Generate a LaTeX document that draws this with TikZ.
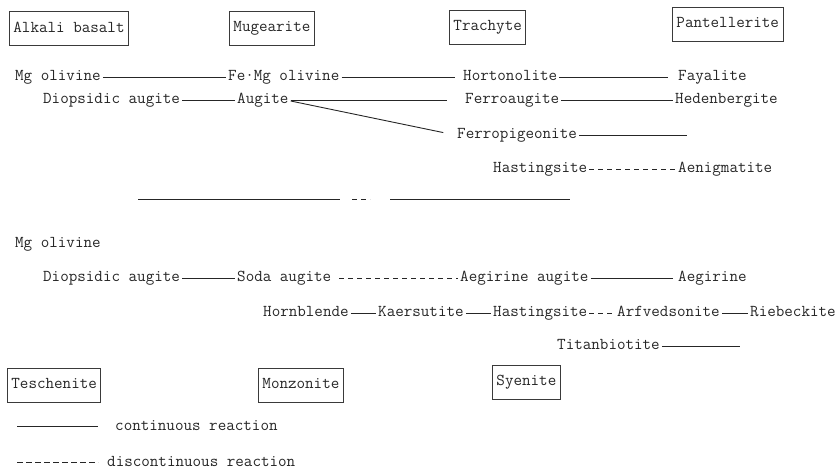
\documentclass[tikz,border=0pt]{standalone}
\usepackage{fontspec}
\usepackage{xcolor}
\usepackage{tikz}
\usetikzlibrary{arrows.meta,positioning}
\definecolor{ink}{HTML}{262626}
\definecolor{boxline}{HTML}{3A3A3A}
\newcommand{\typefont}{\ttfamily\fontsize{16.6}{18}\selectfont}
\tikzset{
  mineral/.style={anchor=west,inner xsep=2pt,inner ysep=0pt,text height=7pt,
    text depth=0pt,font=\typefont,text=ink},
  rockbox/.style={anchor=west,draw=boxline,line width=0.9pt,inner xsep=4pt,
    minimum height=34pt,text height=10pt,text depth=3pt,font=\typefont,text=ink},
  reactline/.style={line width=0.9pt,draw=ink},
  breakline/.style={reactline,dash pattern=on 5pt off 4pt}
}

\begin{document}
\begin{tikzpicture}[x=1pt,y=-1pt]
\useasboundingbox (0,0) rectangle (840,471);
\node[rockbox] (alkali) at (9,28.5) {Alkali basalt};
\node[rockbox] (mugearite) at (229,28) {Mugearite};
\node[rockbox] (trachyte) at (449,27) {Trachyte};
\node[rockbox] (pantellerite) at (672,24) {Pantellerite};
\node[mineral] (mgol) at (13,77) {Mg olivine};
\node[mineral] (femgol) at (226,77) {Fe·Mg olivine};
\node[mineral] (horton) at (461,77) {Hortonolite};
\node[mineral] (fayal) at (676,77) {Fayalite};
\node[mineral] (diopa) at (41,100) {Diopsidic augite};
\node[mineral] (augite) at (235,100) {Augite};
\node[mineral] (ferroaug) at (463,100) {Ferroaugite};
\node[mineral] (heden) at (673,100) {Hedenbergite};
\node[mineral] (ferropig) at (455,135) {Ferropigeonite};
\coordinate (ferropigend) at (687,135);
\node[mineral] (hastA) at (491,169) {Hastingsite};
\node[mineral] (aenig) at (676,169) {Aenigmatite};
\draw[reactline] (mgol) -- (femgol);
\draw[reactline,shorten >=6pt] (femgol) -- (horton);
\draw[reactline,shorten >=8pt] (horton) -- (fayal);
\draw[reactline] (diopa) -- (augite);
\draw[reactline,shorten >=16pt] (augite.east) -- (ferroaug.west);
\draw[reactline,shorten >=12pt] ([yshift=-1pt]augite.east) -- (ferropig.west);
\draw[reactline] (ferroaug) -- (heden);
\draw[reactline] (ferropig) -- (ferropigend);
\draw[breakline] (hastA) -- (aenig);
\draw[reactline] (138,199) -- (340,199);
\draw[breakline] (352,199) -- (370,199);
\draw[reactline] (390,199) -- (570,199);
\node[mineral] (mgolB) at (13,244) {Mg olivine};
\node[mineral] (diopb) at (41,278) {Diopsidic augite};
\node[mineral] (soda) at (235,278) {Soda augite};
\node[mineral] (aegaug) at (458,278) {Aegirine augite};
\node[mineral] (aeg) at (676,278) {Aegirine};
\node[mineral] (hornbl) at (261,313) {Hornblende};
\node[mineral] (kaers) at (376,313) {Kaersutite};
\node[mineral] (hastB) at (491,313) {Hastingsite};
\node[mineral] (arfved) at (615,313) {Arfvedsonite};
\node[mineral] (riebeck) at (748,313) {Riebeckite};
\node[mineral] (titan) at (555,346) {Titanbiotite};
\coordinate (titanend) at (740,346);
\draw[reactline] (diopb) -- (soda);
\draw[breakline,shorten <=6pt] (soda) -- (aegaug);
\draw[reactline,shorten >=3pt] (aegaug) -- (aeg);
\draw[reactline] (hornbl) -- (kaers);
\draw[reactline] (kaers) -- (hastB);
\draw[breakline] (hastB) -- (arfved);
\draw[reactline] (arfved) -- (riebeck);
\draw[reactline] (titan) -- (titanend);
\node[rockbox] (teschen) at (7,385) {Teschenite};
\node[rockbox] (monzon) at (258,385) {Monzonite};
\node[rockbox] (syenite) at (492,382) {Syenite};
\coordinate (contA) at (17,426);
\coordinate (contB) at (98,426);
\coordinate (discA) at (17,462);
\coordinate (discB) at (98,462);
\draw[reactline] (contA) -- (contB);
\draw[breakline,dash pattern=on 6pt off 3pt] (discA) -- (discB);
\node[mineral] (contlbl) at (113,427) {continuous reaction};
\node[mineral] (disclbl) at (105,463) {discontinuous reaction};
\end{tikzpicture}
\end{document}
